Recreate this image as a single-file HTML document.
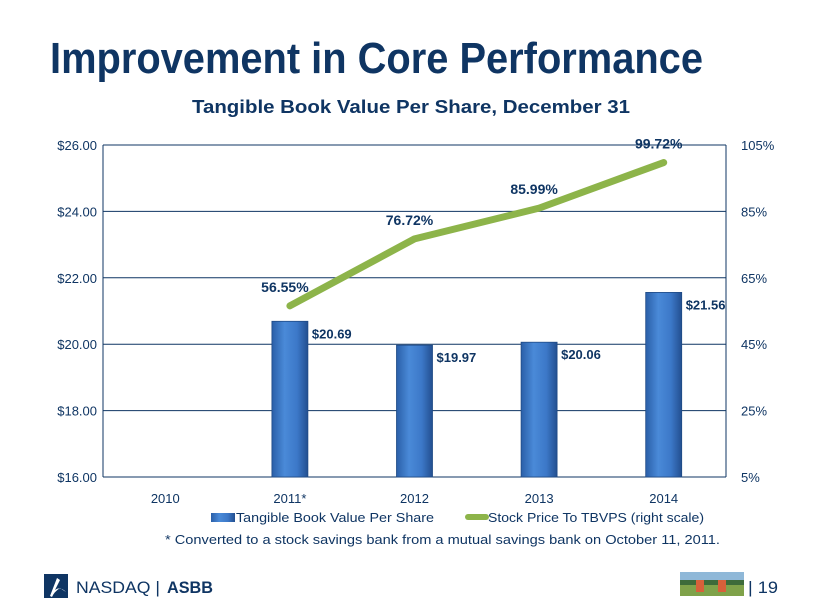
<!DOCTYPE html>
<html><head><meta charset="utf-8"><style>
html,body{margin:0;padding:0;background:#fff;}
svg{display:block;font-family:"Liberation Sans",sans-serif;}
</style></head><body>
<svg id="c" width="820" height="615" viewBox="0 0 820 615">
<defs>
<linearGradient id="bg" x1="0" x2="1" y1="0" y2="0">
<stop offset="0" stop-color="#2a5fa8"/><stop offset="0.35" stop-color="#4a8ad8"/><stop offset="0.7" stop-color="#3c78c8"/><stop offset="1" stop-color="#234f90"/>
</linearGradient>
</defs>
<text x="50" y="73" font-size="44" font-weight="bold" fill="#0f3563" textLength="653" lengthAdjust="spacingAndGlyphs">Improvement in Core Performance</text>
<text x="192" y="113" font-size="18" font-weight="bold" fill="#0f3563" textLength="438" lengthAdjust="spacingAndGlyphs">Tangible Book Value Per Share, December 31</text>
<g id="plot"></g>
<text x="165" y="544" font-size="13" fill="#0f3563" textLength="555" lengthAdjust="spacingAndGlyphs">*  Converted to a stock savings bank from a mutual savings bank on October 11, 2011.</text>
<g>
<rect x="44" y="574" width="24" height="24" fill="#0f3563"/>
<path d="M50 596 L57 578 L60 580 L55 590 Q60 586 66 592 L60 588 Q54 592 52 597 Z" fill="#fff"/>
</g>
<text x="76" y="593" font-size="17" fill="#0f3563" textLength="84" lengthAdjust="spacingAndGlyphs">NASDAQ |</text>
<text x="167" y="593" font-size="17" font-weight="bold" fill="#0f3563" textLength="46" lengthAdjust="spacingAndGlyphs">ASBB</text>
<g>
<rect x="680" y="572" width="64" height="24" fill="#7fa24a"/>
<rect x="680" y="572" width="64" height="10" fill="#8fb8d8"/>
<rect x="680" y="580" width="64" height="5" fill="#3d6b3a"/>
<rect x="696" y="580" width="8" height="12" fill="#d8603a"/>
<rect x="718" y="580" width="8" height="12" fill="#d8603a"/>
</g>
<text x="748" y="593" font-size="17" fill="#0f3563" textLength="30" lengthAdjust="spacingAndGlyphs">| 19</text>
</svg>
<script>
const categories=["2010","2011*","2012","2013","2014"];
const tbvps=[null,20.69,19.97,20.06,21.56];
const tbvpsLabels=["","$20.69","$19.97","$20.06","$21.56"];
const ratio=[null,56.55,76.72,85.99,99.72];
const ratioLabels=["","56.55%","76.72%","85.99%","99.72%"];
const leftTicks=[16,18,20,22,24,26];
const leftTickLabels=["$16.00","$18.00","$20.00","$22.00","$24.00","$26.00"];
const rightTicks=[5,25,45,65,85,105];
const rightTickLabels=["5%","25%","45%","65%","85%","105%"];

const NS="http://www.w3.org/2000/svg";
const g=document.getElementById('plot');
const L=103,R=726,T=145,B=477;
const yL=v=>B-(v-16)/(26-16)*(B-T);
const yR=v=>B-(v-5)/(105-5)*(B-T);
const bw=(R-L)/categories.length;
const xC=i=>L+bw*(i+0.5);
function mk(tag,a,txt){const e=document.createElementNS(NS,tag);for(const k in a)e.setAttribute(k,a[k]);if(txt!=null)e.textContent=txt;g.appendChild(e);return e;}

leftTicks.forEach((v,i)=>{
 const ln=mk('line',{x1:L,x2:R,y1:yL(v),y2:yL(v),stroke:'#0f3563','stroke-width':1});
 
 
 const t=mk('text',{x:L-6,y:yL(v)+5,'font-size':13,fill:'#0f3563','text-anchor':'end'},leftTickLabels[i]);
 
 
});
rightTicks.forEach((v,i)=>{
 const t=mk('text',{x:R+15,y:yR(v)+5,'font-size':13,fill:'#0f3563'},rightTickLabels[i]);
 
 
});
const ax1=mk('line',{x1:L,x2:L,y1:T,y2:B,stroke:'#0f3563'});


const ax2=mk('line',{x1:R,x2:R,y1:T,y2:B,stroke:'#0f3563'});



categories.forEach((c,i)=>{
 const t=mk('text',{x:xC(i),y:503,'font-size':13,fill:'#0f3563','text-anchor':'middle'},c);
 
 
 if(tbvps[i]!=null){
  const y=yL(tbvps[i]);
  const b=mk('rect',{x:xC(i)-18,y:y,width:36,height:B-y,fill:'url(#bg)',stroke:'#1f4a85','stroke-width':0.8});
  
  
  const l=mk('text',{x:xC(i)+22,y:y+17,'font-size':13,'font-weight':'bold',fill:'#0f3563'},tbvpsLabels[i]);
  
  
 }
});
let d='';
ratio.forEach((v,i)=>{if(v!=null)d+=(d?'L':'M')+xC(i)+' '+yR(v);});
const pl=mk('path',{d:d,fill:'none',stroke:'#8db44a','stroke-width':7,'stroke-linecap':'round','stroke-linejoin':'round'});


ratio.forEach((v,i)=>{
 if(v==null)return;
 const t=mk('text',{x:xC(i)-5,y:yR(v)-14,'font-size':14,'font-weight':'bold',fill:'#0f3563','text-anchor':'middle'},ratioLabels[i]);
 
 
});
const lg1=mk('rect',{x:211,y:513,width:24,height:9,fill:'url(#bg)'});


const lt1=mk('text',{x:236,y:522,'font-size':13,fill:'#0f3563',textLength:198,lengthAdjust:'spacingAndGlyphs'},'Tangible Book Value Per Share');


const lg2=mk('line',{x1:468,x2:486,y1:517,y2:517,stroke:'#8db44a','stroke-width':6,'stroke-linecap':'round'});


const lt2=mk('text',{x:488,y:522,'font-size':13,fill:'#0f3563',textLength:216,lengthAdjust:'spacingAndGlyphs'},'Stock Price To TBVPS (right scale)');


</script>
</body></html>
